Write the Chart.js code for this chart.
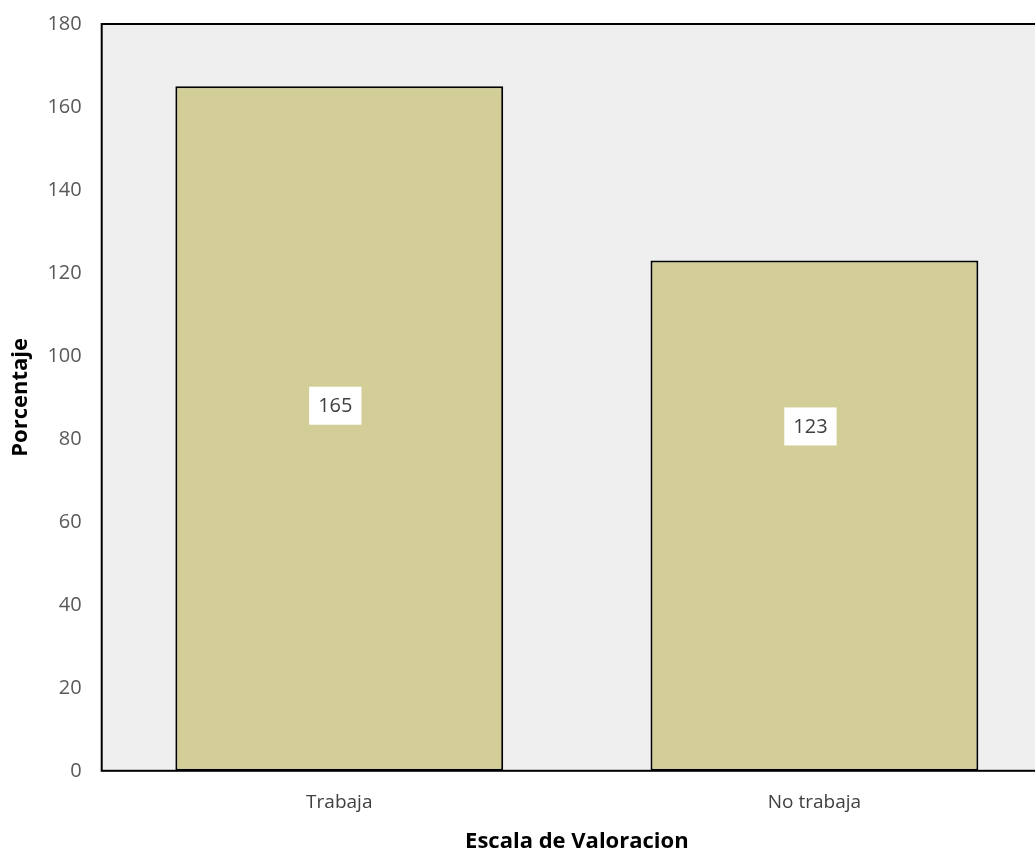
<!DOCTYPE html>
<html>
<head>
<meta charset="utf-8">
<title>Escala de Valoracion</title>
<script src="https://cdn.jsdelivr.net/npm/chart.js@4.4.1/dist/chart.umd.min.js"></script>
<style>
  html, body { margin: 0; padding: 0; background: #fff; overflow: hidden; height: 852px; }
  #wrap { width: 1052px; height: 860px; position: relative; top: -8px; }
</style>
</head>
<body>
<div id="wrap"><canvas id="chart"></canvas></div>
<script>
const categories = ['Trabaja', 'No trabaja'];
const values = [165, 123];
const yTicks = [0, 20, 40, 60, 80, 100, 120, 140, 160, 180];

// where the value boxes sit on each bar (in axis units)
const labelLevels = [88, 83];

const FONT = "'Open Sans', 'Liberation Sans', sans-serif";

// grey plot background and black frame
const plotFrame = {
    id: 'plotFrame',
    beforeDatasetsDraw(chart) {
        const { ctx, chartArea: a } = chart;
        ctx.save();
        ctx.fillStyle = '#efefef';
        ctx.fillRect(a.left, a.top, a.right - a.left, a.bottom - a.top);
        ctx.restore();
    },
    afterDatasetsDraw(chart) {
        const { ctx, chartArea: a } = chart;
        ctx.save();
        ctx.strokeStyle = '#000';
        ctx.lineWidth = 2;
        ctx.strokeRect(a.left, a.top, a.right - a.left, a.bottom - a.top);
        ctx.restore();
    }
};

// white boxes with the bar values
const valueBoxes = {
    id: 'valueBoxes',
    afterDraw(chart) {
        const { ctx } = chart;
        const meta = chart.getDatasetMeta(0);
        const y = chart.scales.y;
        ctx.save();
        ctx.font = '20px ' + FONT;
        ctx.textAlign = 'center';
        ctx.textBaseline = 'middle';
        meta.data.forEach((bar, i) => {
            const text = String(values[i]);
            const cx = bar.x - 4;
            const cy = y.getPixelForValue(labelLevels[i]);
            const w = ctx.measureText(text).width + 18;
            const h = 38;
            ctx.fillStyle = '#fff';
            ctx.fillRect(cx - w / 2, cy - h / 2, w, h);
            ctx.fillStyle = '#404040';
            ctx.fillText(text, cx, cy + 1);
        });
        ctx.restore();
    }
};

new Chart(document.getElementById('chart'), {
    type: 'bar',
    data: {
        labels: categories,
        datasets: [{
            data: values,
            backgroundColor: '#d3ce97',
            borderColor: '#000',
            borderWidth: 2,
            borderSkipped: false,
            barPercentage: 0.69,
            categoryPercentage: 1
        }]
    },
    options: {
        responsive: true,
        maintainAspectRatio: false,
        animation: false,
        layout: { padding: { top: 0, right: 0, bottom: 0, left: 6 } },
        plugins: {
            legend: { display: false },
            tooltip: { enabled: false }
        },
        scales: {
            x: {
                grid: { display: false, drawTicks: false },
                border: { display: false },
                ticks: { color: '#404040', font: { family: FONT, size: 19 }, padding: 20 },
                title: {
                    display: true,
                    text: 'Escala de Valoracion',
                    color: '#000',
                    font: { family: FONT, size: 22, weight: 'bold' },
                    padding: { top: -5, bottom: -3 }
                }
            },
            y: {
                min: 0,
                max: 180,
                afterBuildTicks(axis) { axis.ticks = yTicks.map(v => ({ value: v })); },
                grid: { display: false, drawTicks: false },
                border: { display: false },
                ticks: { color: '#595959', font: { family: FONT, size: 20 }, padding: 20 },
                title: {
                    display: true,
                    text: 'Porcentaje',
                    color: '#000',
                    font: { family: FONT, size: 22, weight: 'bold' },
                    padding: { top: 2, bottom: -7 }
                }
            }
        }
    },
    plugins: [plotFrame, valueBoxes]
});
</script>
</body>
</html>
